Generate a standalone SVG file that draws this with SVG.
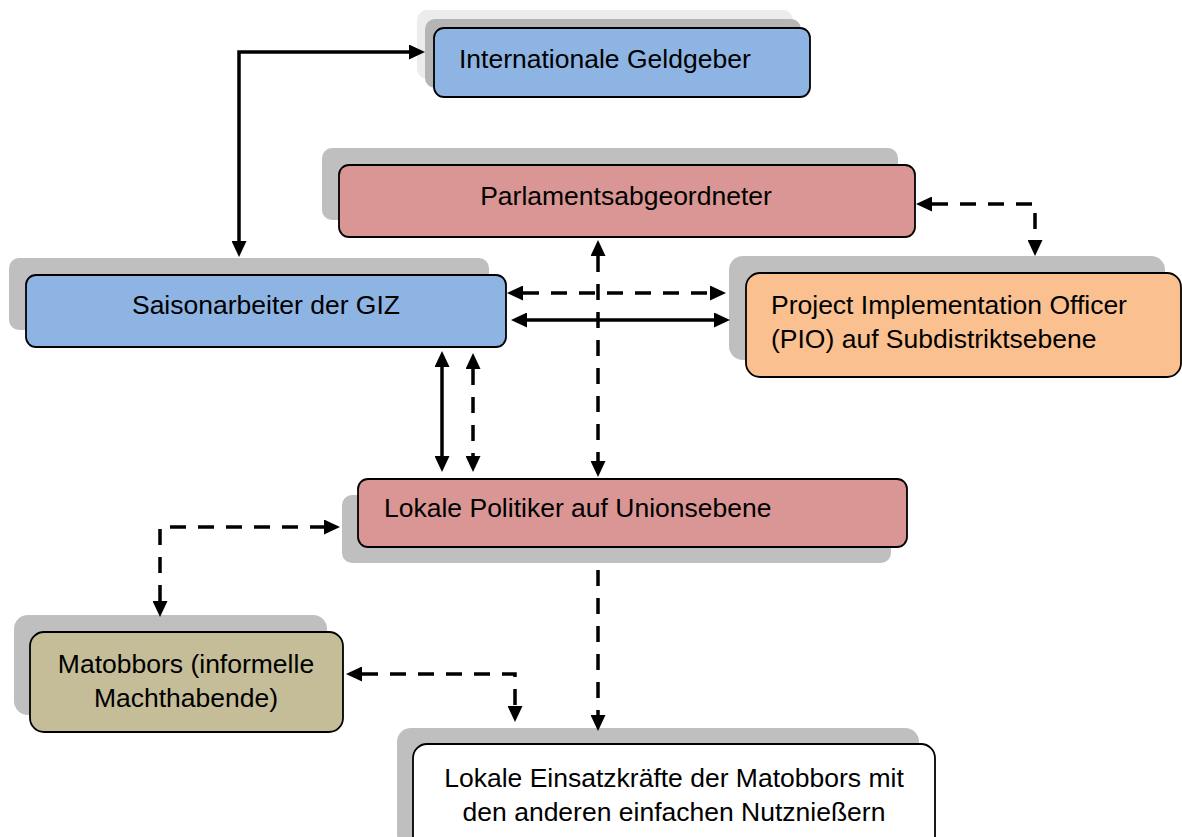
<svg xmlns="http://www.w3.org/2000/svg" width="1182" height="837" viewBox="0 0 1182 837">
<defs>
<style>
.box{stroke:#000;stroke-width:1.8}
.sh{fill:#bfbfbf}
.t{font-family:"Liberation Sans",Arial,sans-serif;font-size:26.5px;fill:#000}
.m{text-anchor:middle}
.c{fill:none;stroke:#000;stroke-width:3.5}
.d{stroke-dasharray:16 12}
</style>
<marker id="ah" viewBox="0 0 16 15" refX="0" refY="7.5" markerWidth="16" markerHeight="15" markerUnits="userSpaceOnUse" orient="auto-start-reverse">
<path d="M0,0 L16,7.5 L0,15 z" fill="#000"/>
</marker>
</defs>
<rect width="1182" height="837" fill="#fff"/>
<g id="n-geldgeber">
<rect x="417" y="10" width="376" height="69" rx="10" fill="#ececec"/>
<rect x="425" y="19" width="376" height="69" rx="10" fill="#b5b5b5"/>
<rect class="box" x="434" y="28" width="376" height="69" rx="10" fill="#8eb4e3"/>
<text class="t" x="459" y="68">Internationale Geldgeber</text>
</g>
<g id="n-parlament">
<rect class="sh" x="322" y="148" width="576" height="72" rx="10"/>
<rect class="box" x="339" y="165" width="576" height="72" rx="10" fill="#d99694"/>
<text class="t m" x="626" y="205">Parlamentsabgeordneter</text>
</g>
<g id="n-saison">
<rect class="sh" x="9" y="258" width="480" height="72" rx="10"/>
<rect class="box" x="26" y="275" width="480" height="72" rx="10" fill="#8eb4e3"/>
<text class="t m" x="266" y="314">Saisonarbeiter der GIZ</text>
</g>
<g id="n-pio">
<rect class="sh" x="729" y="256" width="436" height="104" rx="14"/>
<rect class="box" x="746" y="273" width="435" height="104" rx="14" fill="#fac090"/>
<text class="t" x="771" y="314">Project Implementation Officer</text>
<text class="t" x="771" y="348">(PIO) auf Subdistriktsebene</text>
</g>
<g id="n-lokalpolitik">
<rect class="sh" x="342" y="495" width="549" height="68" rx="10"/>
<rect class="box" x="358" y="479" width="549" height="68" rx="10" fill="#d99694"/>
<text class="t" x="384" y="517">Lokale Politiker auf Unionsebene</text>
</g>
<g id="n-matobbors">
<rect class="sh" x="14" y="615" width="313" height="100" rx="14"/>
<rect class="box" x="30" y="632" width="313" height="100" rx="14" fill="#c4bd97"/>
<text class="t m" x="186" y="673">Matobbors (informelle</text>
<text class="t m" x="186" y="707">Machthabende)</text>
</g>
<g id="n-einsatz">
<rect class="sh" x="397" y="728" width="522" height="120" rx="14"/>
<rect class="box" x="413" y="744" width="522" height="120" rx="14" fill="#fff"/>
<text class="t m" x="674" y="787">Lokale Einsatzkräfte der Matobbors mit</text>
<text class="t m" x="674" y="821">den anderen einfachen Nutznießern</text>
</g>
<g id="connectors">
<path class="c" d="M239,241 V52 H409" marker-start="url(#ah)" marker-end="url(#ah)"/>
<path class="c d" d="M932,204 H1035 V240" marker-start="url(#ah)" marker-end="url(#ah)"/>
<path class="c d" d="M523,293 H710" marker-start="url(#ah)" marker-end="url(#ah)"/>
<path class="c" d="M527,320 H714" marker-start="url(#ah)" marker-end="url(#ah)"/>
<path class="c d" d="M598,256 V461" marker-start="url(#ah)" marker-end="url(#ah)"/>
<path class="c" d="M442,367 V456" marker-start="url(#ah)" marker-end="url(#ah)"/>
<path class="c d" d="M473,369 V456" marker-start="url(#ah)" marker-end="url(#ah)"/>
<path class="c d" d="M598,570 V715" marker-end="url(#ah)"/>
<path class="c d" d="M160,601 V527 H324" marker-start="url(#ah)" marker-end="url(#ah)"/>
<path class="c d" d="M362,674 H515 V706" marker-start="url(#ah)" marker-end="url(#ah)"/>
</g>
</svg>
